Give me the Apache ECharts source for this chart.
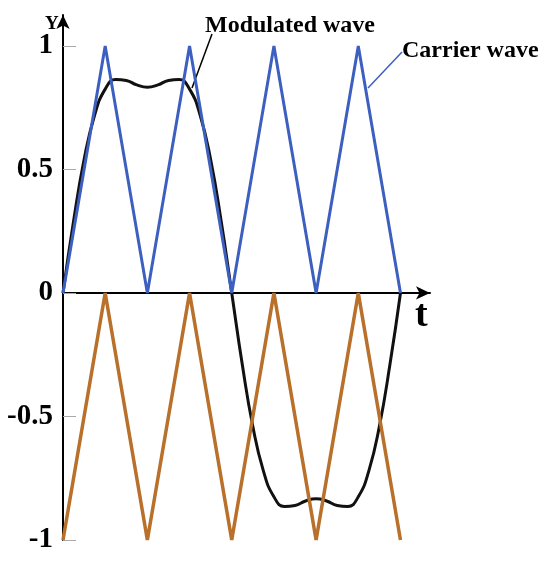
<!DOCTYPE html>
<html>
<head>
<meta charset="utf-8">
<script src="https://cdn.jsdelivr.net/npm/echarts@6/dist/echarts.min.js"></script>
<style>
  html, body { margin: 0; padding: 0; background: #fff; }
  #chart { width: 550px; height: 567px; }
</style>
</head>
<body>
<div id="chart"></div>
<script>
// carrier: 4 periods over the modulated wave's one period
var carrierX = [0, 1, 2, 3, 4, 5, 6, 7, 8];
var carrierUpper = [0, 1, 0, 1, 0, 1, 0, 1, 0];
var carrierLower = [-1, 0, -1, 0, -1, 0, -1, 0, -1];

// modulated wave (flat-top, small dip in the middle)
var modX = [0, 0.25, 0.5, 0.75, 1, 1.25, 1.5, 1.75, 2, 2.25, 2.5, 2.75, 3, 3.25, 3.5, 3.75,
            4, 4.25, 4.5, 4.75, 5, 5.25, 5.5, 5.75, 6, 6.25, 6.5, 6.75, 7, 7.25, 7.5, 7.75, 8];
var modY = [0, 0.29, 0.54, 0.72, 0.825, 0.864, 0.86, 0.842, 0.833, 0.842, 0.86, 0.864, 0.825, 0.72, 0.54, 0.29,
            0, -0.29, -0.54, -0.72, -0.825, -0.864, -0.86, -0.842, -0.833, -0.842, -0.86, -0.864, -0.825, -0.72, -0.54, -0.29, 0];

var yTicks = [-1, -0.5, 0, 0.5, 1];

function zip(xs, ys) {
  return xs.map(function (x, i) { return [x, ys[i]]; });
}

var font = 'Liberation Serif';
var chart = echarts.init(document.getElementById('chart'));

chart.setOption({
  animation: false,
  backgroundColor: '#fff',
  grid: { left: 63, right: 120, top: 15, bottom: 27 },
  xAxis: {
    type: 'value',
    min: 0,
    max: 8.7,
    axisLine: {
      onZero: true,
      symbol: ['none', 'arrow'],
      symbolSize: [10, 14],
      lineStyle: { color: '#000', width: 2 }
    },
    axisTick: { show: false },
    axisLabel: { show: false },
    splitLine: { show: false }
  },
  yAxis: {
    type: 'value',
    min: -1,
    max: 1.125,
    axisLine: {
      symbol: ['none', 'arrow'],
      symbolSize: [10, 14],
      lineStyle: { color: '#000', width: 2 }
    },
    axisTick: {
      inside: true,
      length: 13,
      customValues: yTicks,
      lineStyle: { color: '#aaa', width: 1 }
    },
    axisLabel: {
      customValues: yTicks,
      margin: 10,
      fontFamily: font,
      fontWeight: 'bold',
      fontSize: 29,
      color: '#000',
      formatter: function (v) { return String(v); }
    },
    splitLine: { show: false }
  },
  series: [
    {
      name: 'Modulated wave',
      type: 'line',
      data: zip(modX, modY),
      smooth: true,
      symbol: 'none',
      lineStyle: { color: '#111', width: 3 },
      z: 2
    },
    {
      name: 'Carrier wave',
      type: 'line',
      data: zip(carrierX, carrierUpper),
      symbol: 'none',
      lineStyle: { color: '#3d5fc0', width: 3 },
      z: 3
    },
    {
      name: 'Carrier wave lower',
      type: 'line',
      data: zip(carrierX, carrierLower),
      symbol: 'none',
      lineStyle: { color: '#b8702a', width: 3.5 },
      z: 3
    }
  ],
  graphic: [
    { type: 'text', left: 45, top: 15, style: { text: 'Y', font: 'bold 19px "Liberation Serif"', fill: '#000' } },
    { type: 'text', left: 415, top: 297, style: { text: 't', font: 'bold 38px "Liberation Serif"', fill: '#000' } },
    { type: 'text', left: 205, top: 14, style: { text: 'Modulated wave', font: 'bold 24px "Liberation Serif"', fill: '#000' } },
    { type: 'line', shape: { x1: 212, y1: 34, x2: 192, y2: 88 }, style: { stroke: '#000', lineWidth: 1.5 } },
    { type: 'text', left: 402, top: 39, style: { text: 'Carrier wave', font: 'bold 24px "Liberation Serif"', fill: '#000' } },
    { type: 'line', shape: { x1: 402, y1: 52, x2: 368, y2: 88 }, style: { stroke: '#3d5fc0', lineWidth: 1.5 } }
  ]
});
</script>
</body>
</html>
